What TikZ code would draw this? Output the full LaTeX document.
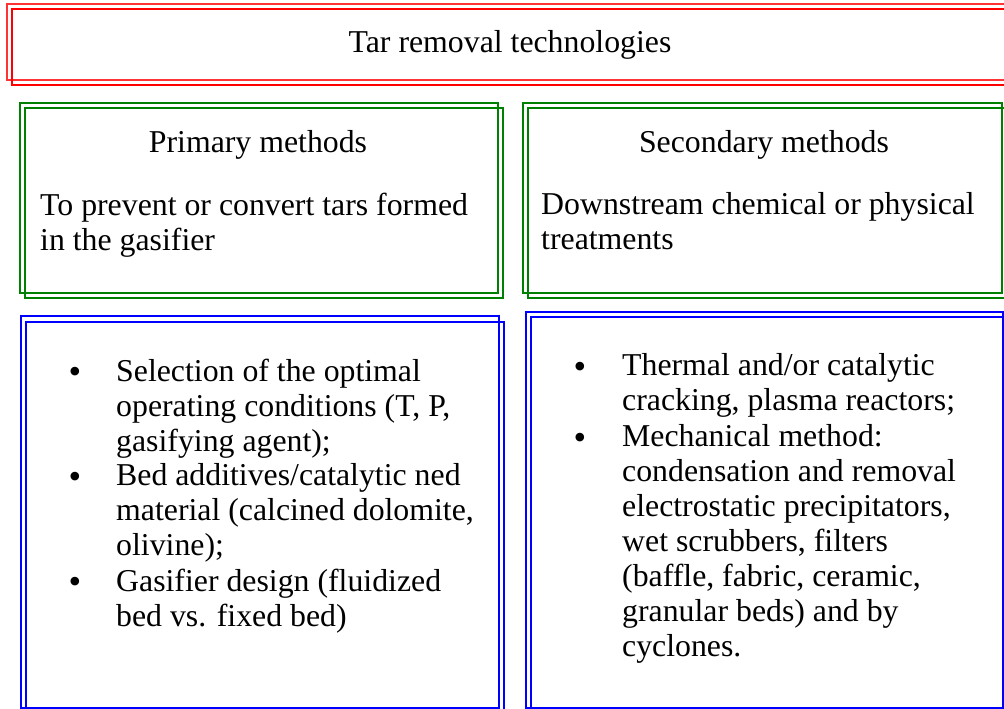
\documentclass[tikz,border=0pt]{standalone}
\usepackage{fontspec}
\setmainfont{Liberation Serif}

\begin{document}
\begin{tikzpicture}[x=1pt, y=-1pt,
    txt/.style={inner sep=0pt, font=\fontsize{31.8}{35}\selectfont, align=left},
    para/.style={txt, anchor=north west, execute at begin node=\strut},
    dot/.style={inner sep=0pt, font=\fontsize{36}{35}\selectfont},
    red_frame/.style={draw=red, line width=2pt},
    green_frame/.style={draw=green!50!black, line width=1.8pt},
    blue_frame/.style={draw=blue, line width=2pt}]

    \useasboundingbox (0,0) rectangle (1004,709);
    \clip (0,0) rectangle (1004,709);

    % frames, each one drawn twice with a small shift
    \draw[red_frame, draw=red!80] (7,4) rectangle (1012,80);
    \draw[red_frame] (12,9) rectangle (1017,85);
    \draw[green_frame] (20,103) rectangle (498,293);
    \draw[green_frame] (25,108) rectangle (503,298);
    \draw[green_frame] (523,103) rectangle (1002,293);
    \draw[green_frame] (528,108) rectangle (1007,298);
    \draw[blue_frame] (21,316) rectangle (499,708);
    \draw[blue_frame] (26,322) rectangle (504,714);
    \draw[blue_frame] (526,312) rectangle (1003,708);
    \draw[blue_frame] (531,317) rectangle (1008,714);

    \node[txt, anchor=base] (title) at (510,53) {Tar removal technologies};

    \node[txt, anchor=base] (prim)  at (258,152) {Primary methods};
    \node[para] (primtxt) at (40,192.5) {To prevent or convert tars formed\\in the gasifier};
    \node[txt, anchor=base] (sec)   at (764,152) {Secondary methods};
    \node[para] (sectxt) at (541,192.5) {Downstream chemical or physical\\treatments};

    % left list
    \node[dot, anchor=base] (d1) at (75,383) {•};
    \node[para] (p1) at (116,358.5) {Selection of the optimal\\operating conditions (T, P,\\gasifying agent);};
    \node[dot, anchor=base] (d2) at (75,488) {•};
    \node[para] (p2) at (116,463.5) {Bed additives/catalytic ned\\material (calcined dolomite,\\olivine);};
    \node[dot, anchor=base] (d3) at (75,593) {•};
    \node[para] (p3) at (116,568.5) {Gasifier design (fluidized\\bed vs. fixed bed)};

    % right list
    \node[dot, anchor=base] (d4) at (580,378) {•};
    \node[para] (s1) at (622,353.5) {Thermal and/or catalytic\\cracking, plasma reactors;};
    \node[dot, anchor=base] (d5) at (580,449) {•};
    \node[para] (s2) at (622,424.5) {Mechanical method:\\condensation and removal\\electrostatic precipitators,\\wet scrubbers, filters\\(baffle, fabric, ceramic,\\granular beds) and by\\cyclones.};

\end{tikzpicture}
\end{document}
